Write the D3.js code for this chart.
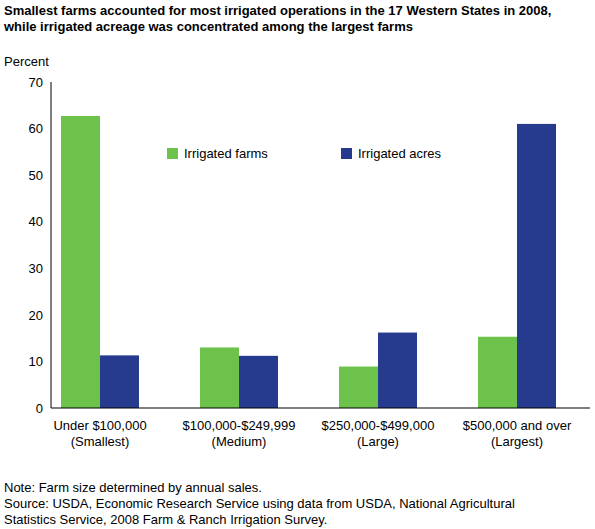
<!DOCTYPE html>
<html><head><meta charset="utf-8">
<script src="https://cdn.jsdelivr.net/npm/d3@7"></script>
<style>body{margin:0;background:#fff;font-family:Arial,"Liberation Sans",sans-serif}</style>
</head><body>
<svg id="chart" width="595" height="529"></svg>
<script>
// chart data
const categories = ["Under $100,000\n(Smallest)", "$100,000-$249,999\n(Medium)", "$250,000-$499,000\n(Large)", "$500,000 and over\n(Largest)"];
const irrigatedFarms = [62.7, 13.0, 8.9, 15.3];
const irrigatedAcres = [11.3, 11.2, 16.2, 61.0];
const yTicks = [0, 10, 20, 30, 40, 50, 60, 70];

const svg = d3.select("#chart");
const ff = "Arial, 'Liberation Sans', sans-serif";

svg.append("text").attr("x", 4).attr("y", 15).attr("font-size", 13).attr("font-weight", "bold").attr("font-family", ff)
  .text("Smallest farms accounted for most irrigated operations in the 17 Western States in 2008,");
svg.append("text").attr("x", 4).attr("y", 31).attr("font-size", 13).attr("font-weight", "bold").attr("font-family", ff)
  .text("while irrigated acreage was concentrated among the largest farms");
svg.append("text").attr("x", 4).attr("y", 66).attr("font-size", 13).attr("font-family", ff).text("Percent");

// category centres
const x = d3.scalePoint().domain(categories).range([100, 517]);
const bw = 39;
const y = d3.scaleLinear().domain([0, 70]).range([408, 82]);

const ax = svg.append("g").attr("transform", "translate(51,0)")
  .call(d3.axisLeft(y).tickValues(yTicks).tickSize(0).tickPadding(8));
ax.select(".domain").remove();
ax.selectAll("text").attr("font-size", 13).attr("font-family", ff).attr("fill", "#000");

svg.selectAll(".f").data(categories).join("rect").attr("class", "f")
  .attr("x", d => x(d) - bw).attr("width", bw)
  .attr("y", (d, i) => y(irrigatedFarms[i])).attr("height", (d, i) => y(0) - y(irrigatedFarms[i]))
  .attr("fill", "#6cc24a");
svg.selectAll(".a").data(categories).join("rect").attr("class", "a")
  .attr("x", d => x(d)).attr("width", bw)
  .attr("y", (d, i) => y(irrigatedAcres[i])).attr("height", (d, i) => y(0) - y(irrigatedAcres[i]))
  .attr("fill", "#263a8e");

svg.append("line").attr("x1", 51).attr("x2", 51).attr("y1", 82).attr("y2", 408).attr("stroke", "#000");
svg.append("line").attr("x1", 51).attr("x2", 590).attr("y1", 408).attr("y2", 408).attr("stroke", "#000");

categories.forEach(c => {
  c.split("\n").forEach((line, j) => {
    svg.append("text").attr("x", x(c)).attr("y", 430 + j * 16).attr("text-anchor", "middle")
      .attr("font-size", 13).attr("font-family", ff).text(line);
  });
});

const legend = [["Irrigated farms", "#6cc24a", 167], ["Irrigated acres", "#263a8e", 341]];
legend.forEach(([t, c, lx]) => {
  svg.append("rect").attr("x", lx).attr("y", 148).attr("width", 11).attr("height", 11).attr("fill", c);
  svg.append("text").attr("x", lx + 17).attr("y", 158).attr("font-size", 13).attr("font-family", ff).text(t);
});

["Note: Farm size determined by annual sales.",
 "Source: USDA, Economic Research Service using data from USDA, National Agricultural",
 "Statistics Service, 2008 Farm & Ranch Irrigation Survey."].forEach((t, i) => {
  svg.append("text").attr("x", 4).attr("y", 492 + i * 16).attr("font-size", 13).attr("font-family", ff).text(t);
});
</script>
</body></html>
